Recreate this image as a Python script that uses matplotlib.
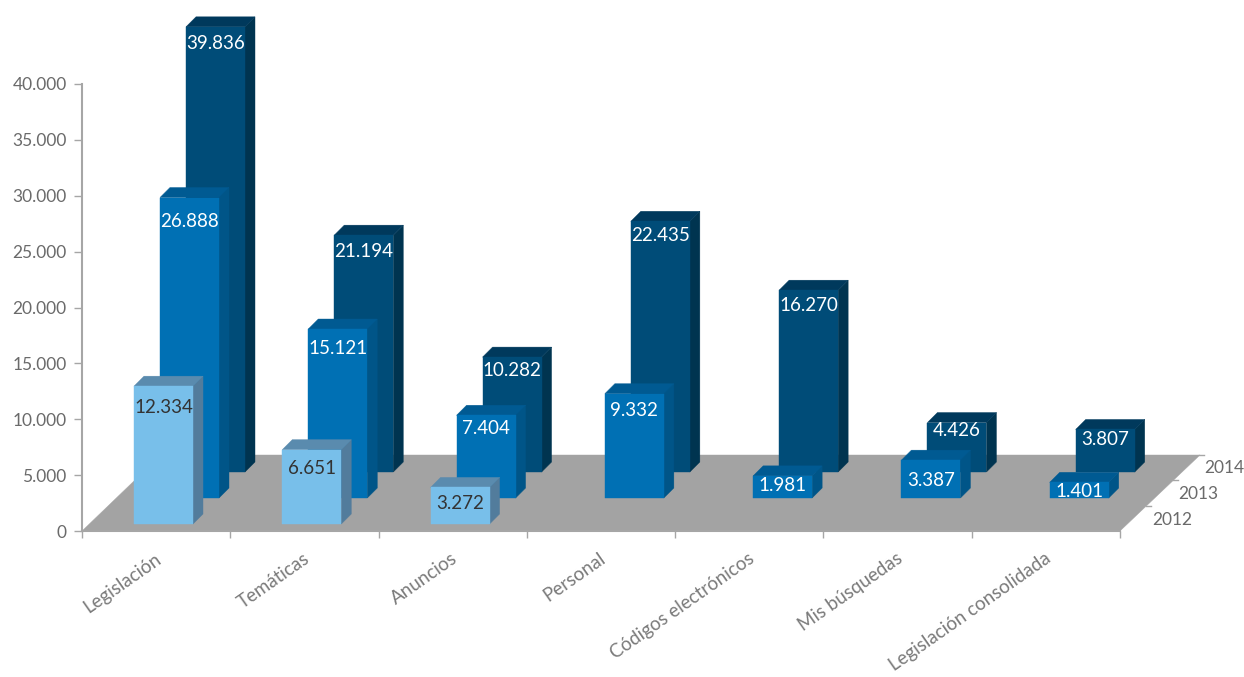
import matplotlib
matplotlib.use('Agg')
import matplotlib.pyplot as plt
from matplotlib.patches import Polygon

plt.rcParams['font.family'] = ['Lato', 'DejaVu Sans']

# datos
categorias = ['Legislación', 'Temáticas', 'Anuncios', 'Personal',
              'Códigos electrónicos', 'Mis búsquedas', 'Legislación consolidada']
anios = ['2012', '2013', '2014']
valores_2012 = [12334, 6651, 3272]
valores_2013 = [26888, 15121, 7404, 9332, 1981, 3387, 1401]
valores_2014 = [39836, 21194, 10282, 22435, 16270, 4426, 3807]
yticks = [0, 5000, 10000, 15000, 20000, 25000, 30000, 35000, 40000]

# colores: frente, lado, arriba, texto
colores = {
    '2012': ('#78BFEA', '#527C9C', '#5A8BAE', '#333333'),
    '2013': ('#0070B4', '#005588', '#005A92', 'white'),
    '2014': ('#004C78', '#003450', '#00395C', 'white'),
}
# bajada de la etiqueta desde el borde superior (px)
bajada = {
    '2012': [21, 19, 16],
    '2013': [24, 19, 13, 17, 10, 20, 9],
    '2014': [17, 16, 13, 14, 15, 8, 10],
}

W, H = 1244, 677
fig = plt.figure(figsize=(W / 100, H / 100), dpi=100)
ax = fig.add_axes([82 / W, (H - 531) / H, 1038 / W, 447 / H])
ax.set_xlim(0, 7)
ax.set_ylim(0, 40000)

# escala px -> datos
px_x = 7 / 1038
px_y = 40000 / 447


def plano(px, py):
    return (px * px_x, py * px_y)


def poligono(puntos, color, z):
    ax.add_patch(Polygon(puntos, closed=True, facecolor=color, edgecolor=color,
                         linewidth=0.3, clip_on=False, zorder=z))


# suelo gris
poligono([plano(0, 0), plano(1038, 0), plano(1118, 76), plano(79, 76)], '#A3A3A3', 1)

ancho = 59 * px_x
fondo_x = 10 * px_x
fondo_y = 10 * px_y
z = 2
for s, (anio, vals) in enumerate([('2014', valores_2014), ('2013', valores_2013), ('2012', valores_2012)]):
    fila = 2 - s
    frente, lado, arriba, col_txt = colores[anio]
    for i, v in enumerate(vals):
        x0 = i + (52 + 26 * fila) * px_x
        y0 = (7 + 26 * fila) * px_y
        y1 = y0 + v
        x1 = x0 + ancho
        poligono([(x1, y0), (x1 + fondo_x, y0 + fondo_y), (x1 + fondo_x, y1 + fondo_y), (x1, y1)], lado, z)
        poligono([(x0, y1), (x1, y1), (x1 + fondo_x, y1 + fondo_y), (x0 + fondo_x, y1 + fondo_y)], arriba, z)
        poligono([(x0, y0), (x1, y0), (x1, y1), (x0, y1)], frente, z)
        etiqueta = f'{v:,}'.replace(',', '.')
        ax.text(x0 + ancho / 2, y1 - bajada[anio][i] * px_y, etiqueta, color=col_txt,
                fontsize=13.5, ha='center', va='center', clip_on=False, zorder=z + 0.5)
        z += 1

# ejes
gris = '#A6A6A6'
for lado_eje in ['top', 'right']:
    ax.spines[lado_eje].set_visible(False)
for lado_eje in ['left', 'bottom']:
    ax.spines[lado_eje].set_color(gris)
    ax.spines[lado_eje].set_linewidth(1.5)
ax.patch.set_alpha(0)
ax.set_yticks(yticks)
ax.set_yticklabels([f'{t:,}'.replace(',', '.') for t in yticks], fontsize=12.5, color='#6A6A6A')
ax.tick_params(axis='y', length=6, width=1, color=gris, pad=5)
ax.set_xticks(range(8))
ax.set_xticklabels([])
ax.tick_params(axis='x', length=5, width=1, color=gris)

# nombres de categoria
for i, c in enumerate(categorias):
    ax.annotate(c, xy=(i + 0.5, 0), xytext=(-2, -19), textcoords='offset pixels', rotation=35,
                rotation_mode='anchor', ha='right', va='top', fontsize=13.5, color='#7A7A7A',
                annotation_clip=False)

# eje de profundidad
for k, anio in enumerate(anios):
    ax.text(1038 * px_x + (32 + 26 * k) * px_x, (11 + 26 * k) * px_y, anio, fontsize=12.5,
            color='#6A6A6A', ha='left', va='center', clip_on=False)
    xa = 1038 + 26.3 * (k + 1)
    ya = 25.3 * (k + 1)
    ax.plot([xa * px_x, (xa + 5) * px_x], [ya * px_y, ya * px_y], color=gris, lw=1, clip_on=False, zorder=1)

fig.savefig('out.png', dpi=100)
